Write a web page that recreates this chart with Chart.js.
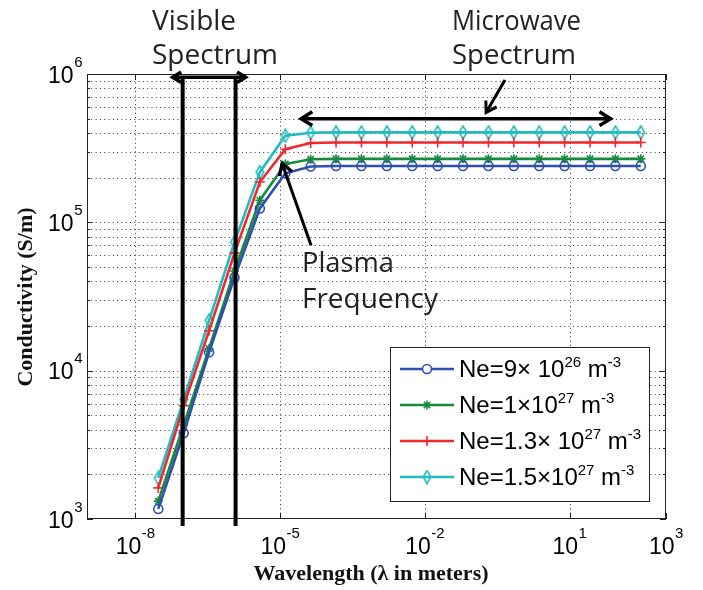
<!DOCTYPE html>
<html>
<head>
<meta charset="utf-8">
<script src="https://cdn.jsdelivr.net/npm/chart.js@4/dist/chart.umd.min.js"></script>
<style>
  html, body { margin: 0; padding: 0; background: #fff; }
  #wrap { width: 703px; height: 590px; }
</style>
</head>
<body>
<div id="wrap"><canvas id="chart" width="703" height="590"></canvas></div>
<script>
// wavelength in meters (c / f, f stepping from 1e16 Hz down to 1e6 Hz)
const wavelength = [3.0e-8, 1.01e-7, 3.39e-7, 1.14e-6, 3.82e-6, 1.29e-5, 4.32e-5, 1.45e-4, 4.87e-4, 1.64e-3,
  5.5e-3, 1.85e-2, 6.21e-2, 0.209, 0.701, 2.36, 7.91, 26.6, 89.3, 300];

// conductivity (S/m)
const sigmaNe09 = [1170, 3800, 13300, 42500, 124000, 214000, 238000, 240000, 240000, 240000,
  240000, 240000, 240000, 240000, 240000, 240000, 240000, 240000, 240000, 240000];
const sigmaNe10 = [1320, 4300, 14100, 47000, 141000, 247000, 266000, 268000, 268000, 268000,
  268000, 268000, 268000, 268000, 268000, 268000, 268000, 268000, 268000, 268000];
const sigmaNe13 = [1620, 5800, 18600, 62000, 187000, 311000, 343000, 345000, 345000, 345000,
  345000, 345000, 345000, 345000, 345000, 345000, 345000, 345000, 345000, 345000];
const sigmaNe15 = [1890, 6400, 21800, 73600, 218000, 383000, 402000, 404000, 404000, 404000,
  404000, 404000, 404000, 404000, 404000, 404000, 404000, 404000, 404000, 404000];

const seriesLabels = ["Ne=9\u00d7 10^{26} m^{-3}", "Ne=1\u00d710^{27} m^{-3}",
  "Ne=1.3\u00d7 10^{27} m^{-3}", "Ne=1.5\u00d710^{27} m^{-3}"];
const seriesColors = ["#2f4fae", "#178a3c", "#ee2a2e", "#22bcc0"];

const xTicks = [1e-8, 1e-5, 1e-2, 1e1, 1e3];
const xTickExp = ["-8", "-5", "-2", "1", "3"];
const yTicks = [1e3, 1e4, 1e5, 1e6];
const yTickExp = ["3", "4", "5", "6"];
const yMinorTicks = [2e3, 3e3, 4e3, 5e3, 6e3, 7e3, 8e3, 9e3, 2e4, 3e4, 4e4, 5e4, 6e4, 7e4, 8e4, 9e4,
  2e5, 3e5, 4e5, 5e5, 6e5, 7e5, 8e5, 9e5];

// narrow diamond marker for the last series
function diamondMarker(color) {
  const c = document.createElement("canvas");
  c.width = 10; c.height = 15;
  const g = c.getContext("2d");
  g.strokeStyle = color; g.lineWidth = 1.6;
  g.beginPath();
  g.moveTo(5, 1); g.lineTo(8.8, 7.5); g.lineTo(5, 14); g.lineTo(1.2, 7.5); g.closePath();
  g.stroke();
  return c;
}
const markers = ["circle", "star", "cross", diamondMarker(seriesColors[3])];
const sigmas = [sigmaNe09, sigmaNe10, sigmaNe13, sigmaNe15];

const datasets = sigmas.map((vals, i) => ({
  label: seriesLabels[i],
  data: wavelength.map((w, k) => ({ x: w, y: vals[k] })),
  borderColor: seriesColors[i],
  backgroundColor: "rgba(0,0,0,0)",
  borderWidth: 2.6,
  pointStyle: markers[i],
  pointRadius: i === 2 ? 5 : 4.5,
  pointBorderWidth: 1.6,
  pointBorderColor: seriesColors[i],
  pointBackgroundColor: "rgba(0,0,0,0)",
  tension: 0,
}));

// "10" with a superscript exponent
function powerWidth(ctx, exp) {
  ctx.font = '23px "Liberation Sans"';
  const a = ctx.measureText("10").width;
  ctx.font = '15px "Liberation Sans"';
  return a + ctx.measureText(exp).width;
}
function drawPower(ctx, exp, left, base) {
  ctx.textAlign = "left"; ctx.textBaseline = "alphabetic";
  ctx.font = '23px "Liberation Sans"';
  ctx.fillText("10", left, base);
  const a = ctx.measureText("10").width;
  ctx.font = '15px "Liberation Sans"';
  ctx.fillText(exp, left + a + 0.5, base - 16);
}

// text with ^{..} superscripts
function drawRich(ctx, str, x, base) {
  const parts = str.split(/(\^\{[^}]*\})/).filter(s => s.length);
  let cx = x;
  for (const p of parts) {
    if (p.startsWith("^{")) {
      ctx.font = '15px "Liberation Sans"';
      const t = p.slice(2, -1);
      ctx.fillText(t, cx, base - 10);
      cx += ctx.measureText(t).width;
    } else {
      ctx.font = '24px "Liberation Sans"';
      ctx.fillText(p, cx, base);
      cx += ctx.measureText(p).width;
    }
  }
}

function arrowHead(ctx, x0, y0, x1, y1, size) {
  const ang = Math.atan2(y1 - y0, x1 - x0);
  ctx.beginPath();
  ctx.moveTo(x1 - size * Math.cos(ang - 0.55), y1 - size * Math.sin(ang - 0.55));
  ctx.lineTo(x1, y1);
  ctx.lineTo(x1 - size * Math.cos(ang + 0.55), y1 - size * Math.sin(ang + 0.55));
  ctx.stroke();
}
function arrow(ctx, x0, y0, x1, y1, size, both) {
  ctx.beginPath(); ctx.moveTo(x0, y0); ctx.lineTo(x1, y1); ctx.stroke();
  arrowHead(ctx, x0, y0, x1, y1, size);
  if (both) arrowHead(ctx, x1, y1, x0, y0, size);
}

const decor = {
  id: "decor",
  beforeDatasetsDraw(chart) {
    const { ctx, chartArea: a, scales: { x, y } } = chart;
    ctx.save();
    ctx.strokeStyle = "#333";
    ctx.lineWidth = 1;
    ctx.setLineDash([1, 3.3]);
    ctx.beginPath();
    for (const v of yTicks.concat(yMinorTicks)) {
      const py = Math.round(y.getPixelForValue(v)) + 0.5;
      if (py < a.top + 2 || py > a.bottom - 2) continue;
      ctx.moveTo(a.left, py); ctx.lineTo(a.right, py);
    }
    for (const v of xTicks) {
      const px = Math.round(x.getPixelForValue(v)) + 0.5;
      if (px < a.left + 2 || px > a.right - 2) continue;
      ctx.moveTo(px, a.top); ctx.lineTo(px, a.bottom);
    }
    ctx.stroke();
    ctx.restore();
  },
  afterDatasetsDraw(chart) {
    const { ctx, chartArea: a, scales: { x, y } } = chart;
    ctx.save();
    // frame + inside tick marks
    ctx.strokeStyle = "#222";
    ctx.lineWidth = 1;
    ctx.strokeRect(a.left + 0.5, a.top + 0.5, a.right - a.left - 1, a.bottom - a.top - 1);
    ctx.beginPath();
    for (const v of yTicks) {
      const py = Math.round(y.getPixelForValue(v)) + 0.5;
      ctx.moveTo(a.left, py); ctx.lineTo(a.left + 6, py);
      ctx.moveTo(a.right, py); ctx.lineTo(a.right - 6, py);
    }
    for (const v of yMinorTicks) {
      const py = Math.round(y.getPixelForValue(v)) + 0.5;
      ctx.moveTo(a.left, py); ctx.lineTo(a.left + 3, py);
      ctx.moveTo(a.right, py); ctx.lineTo(a.right - 3, py);
    }
    for (const v of xTicks) {
      const px = Math.round(x.getPixelForValue(v)) + 0.5;
      ctx.moveTo(px, a.top); ctx.lineTo(px, a.top + 6);
      ctx.moveTo(px, a.bottom); ctx.lineTo(px, a.bottom - 6);
    }
    ctx.stroke();

    // tick labels
    ctx.fillStyle = "#000";
    yTicks.forEach((v, i) => {
      const py = y.getPixelForValue(v);
      const w = powerWidth(ctx, yTickExp[i]);
      drawPower(ctx, yTickExp[i], a.left - 5 - w, py + 8.5);
    });
    xTicks.forEach((v, i) => {
      const px = x.getPixelForValue(v);
      const w = powerWidth(ctx, xTickExp[i]);
      drawPower(ctx, xTickExp[i], px - w / 2, a.bottom + 35);
    });

    // axis titles
    ctx.fillStyle = "#111";
    ctx.font = 'bold 22px "Liberation Serif"';
    ctx.textAlign = "center";
    ctx.fillText("Wavelength (\u03bb in meters)", 371, 580);
    ctx.save();
    ctx.translate(32, 297);
    ctx.rotate(-Math.PI / 2);
    ctx.fillText("Conductivity (S/m)", 0, 0);
    ctx.restore();

    // visible spectrum band
    ctx.strokeStyle = "#000";
    ctx.lineWidth = 4;
    const visLo = x.getPixelForValue(9.6e-8), visHi = x.getPixelForValue(1.2e-6);
    const topY = y.getPixelForValue(9.5e5);
    ctx.beginPath();
    ctx.moveTo(visLo, topY); ctx.lineTo(visLo, a.bottom + 7);
    ctx.moveTo(visHi, topY); ctx.lineTo(visHi, a.bottom + 7);
    ctx.stroke();
    ctx.lineWidth = 3.5;
    arrow(ctx, visLo - 10, topY, visHi + 10, topY, 10, true);

    // microwave band
    ctx.lineWidth = 3.5;
    const mwY = y.getPixelForValue(5e5);
    arrow(ctx, x.getPixelForValue(2.75e-5), mwY, x.getPixelForValue(71), mwY, 13, true);
    ctx.lineWidth = 3;
    arrow(ctx, x.getPixelForValue(0.46), y.getPixelForValue(9.1e5),
      x.getPixelForValue(0.187), y.getPixelForValue(5.5e5), 12, false);

    // plasma frequency
    arrow(ctx, x.getPixelForValue(4.4e-5), y.getPixelForValue(7e4),
      x.getPixelForValue(1.1e-5), y.getPixelForValue(2.5e5), 13, false);

    // annotation text
    ctx.fillStyle = "#222";
    ctx.font = '28px "Open Sans"';
    ctx.textAlign = "left";
    ctx.fillText("Visible", 152, 30, 90);
    ctx.fillText("Spectrum", 152, 64, 126);
    ctx.fillText("Microwave", 452, 30, 129);
    ctx.fillText("Spectrum", 452, 64, 124);
    ctx.fillText("Plasma", 302, 272, 92);
    ctx.fillText("Frequency", 302, 308, 136);

    // legend
    const lx = 390, ly = 347, lw = 259, lh = 154;
    ctx.fillStyle = "#fff";
    ctx.fillRect(lx, ly, lw, lh);
    ctx.strokeStyle = "#222";
    ctx.lineWidth = 1;
    ctx.strokeRect(lx + 0.5, ly + 0.5, lw, lh);
    chart.data.datasets.forEach((ds, i) => {
      const cy = ly + 22 + i * 36;
      ctx.strokeStyle = ds.borderColor;
      ctx.lineWidth = 2.6;
      ctx.beginPath(); ctx.moveTo(lx + 10, cy); ctx.lineTo(lx + 64, cy); ctx.stroke();
      ctx.lineWidth = 1.6;
      Chart.helpers.drawPoint(ctx, { pointStyle: ds.pointStyle, radius: ds.pointRadius, rotation: 0, borderWidth: 1.6 }, lx + 37, cy);
      ctx.fillStyle = "#000";
      drawRich(ctx, ds.label, lx + 69, cy + 8);
    });
    ctx.restore();
  }
};

new Chart(document.getElementById("chart"), {
  type: "line",
  data: { datasets },
  options: {
    responsive: false,
    animation: false,
    devicePixelRatio: 1,
    layout: { padding: { left: 87, top: 74, right: 37, bottom: 71 } },
    plugins: { legend: { display: false }, tooltip: { enabled: false } },
    scales: {
      x: { type: "logarithmic", min: 1e-9, max: 1e3, display: false },
      y: { type: "logarithmic", min: 1e3, max: 1e6, display: false },
    },
  },
  plugins: [decor],
});
</script>
</body>
</html>
